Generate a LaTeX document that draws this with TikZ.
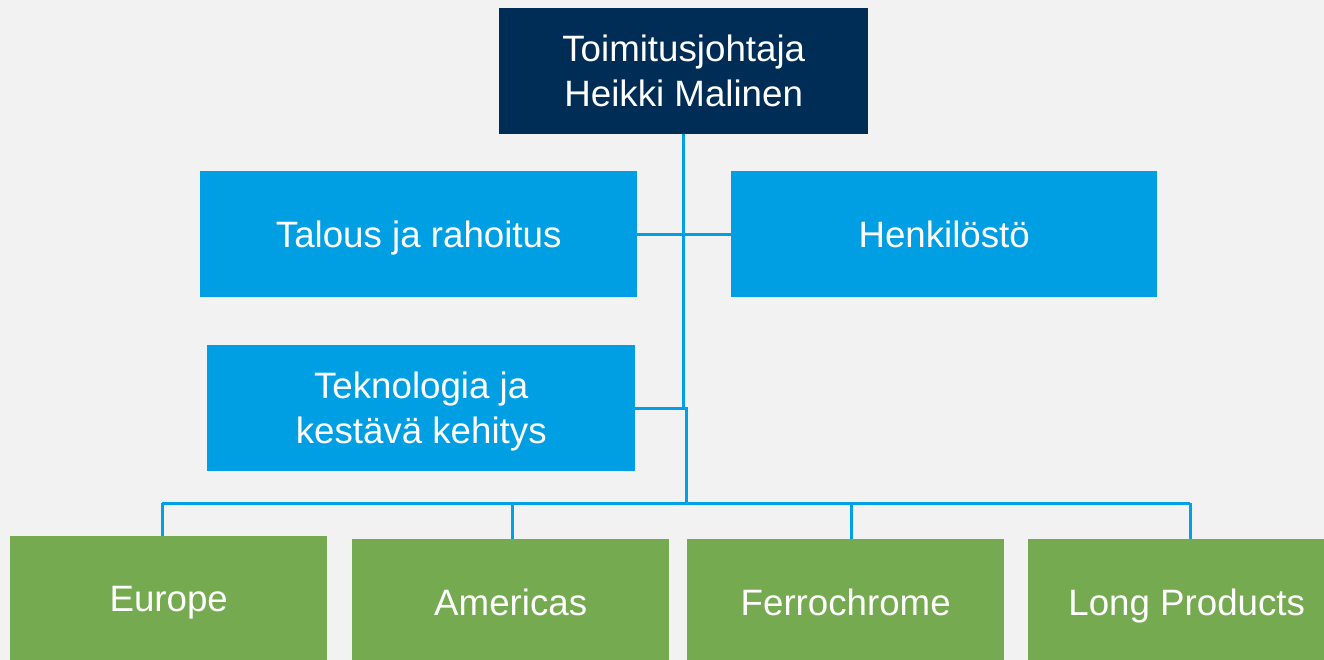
\documentclass[tikz,border=0pt]{standalone}
\usepackage{fontspec}
\setmainfont{Liberation Sans}
\definecolor{bgc}{HTML}{F2F2F2}
\definecolor{navy}{HTML}{002D56}
\definecolor{lblue}{HTML}{009FE3}
\definecolor{lgreen}{HTML}{75AA50}
\definecolor{linec}{HTML}{00A0E6}
\tikzset{
  box/.style={anchor=north west, inner sep=0pt, align=center, text=white,
    text depth=0pt, font=\fontsize{36.7}{45}\selectfont},
  conn/.style={draw=linec, line width=3pt}
}
\begin{document}
\begin{tikzpicture}[x=1pt,y=-1pt]
\clip (0,0) rectangle (1324,660);
\fill[bgc] (0,0) rectangle (1324,660);
\node[box, fill=navy, minimum width=369pt, minimum height=126pt] (ceo) at (499,8) {Toimitusjohtaja\\Heikki Malinen};
\node[box, fill=lblue, minimum width=437pt, minimum height=126pt] (fin) at (200,171) {Talous ja rahoitus};
\node[box, fill=lblue, minimum width=426pt, minimum height=126pt] (hr) at (731,171) {Henkilöstö};
\node[box, fill=lblue, minimum width=428pt, minimum height=126pt] (tech) at (207,345) {Teknologia ja\\kestävä kehitys};
\node[box, fill=lgreen, minimum width=317pt, minimum height=126pt] (eu) at (10,536) {Europe};
\node[box, fill=lgreen, minimum width=317pt, minimum height=126pt] (am) at (352,539) {Americas};
\node[box, fill=lgreen, minimum width=317pt, minimum height=126pt] (fe) at (687,539) {Ferrochrome};
\node[box, fill=lgreen, minimum width=317pt, minimum height=126pt] (lp) at (1028,539) {Long Products};
\coordinate (j1) at (683,408);
\coordinate (j2) at (686,408);
\coordinate (bus) at (686,503);
\coordinate (b1) at (162,503);
\coordinate (b2) at (512,503);
\coordinate (b3) at (851,503);
\coordinate (b4) at (1190,503);
\draw[conn] (ceo.south -| j1) -- (j1);
\draw[conn] (fin.east |- 0,235) -- (hr.west |- 0,235);
\draw[conn] (tech.east |- j1) -- (j2) -- (bus);
\draw[conn] (b1) -- (b4);
\draw[conn] (b1) -- (b1 |- eu.north);
\draw[conn] (b2) -- (b2 |- am.north);
\draw[conn] (b3) -- (b3 |- fe.north);
\draw[conn] (b4) -- (b4 |- lp.north);
\end{tikzpicture}
\end{document}
